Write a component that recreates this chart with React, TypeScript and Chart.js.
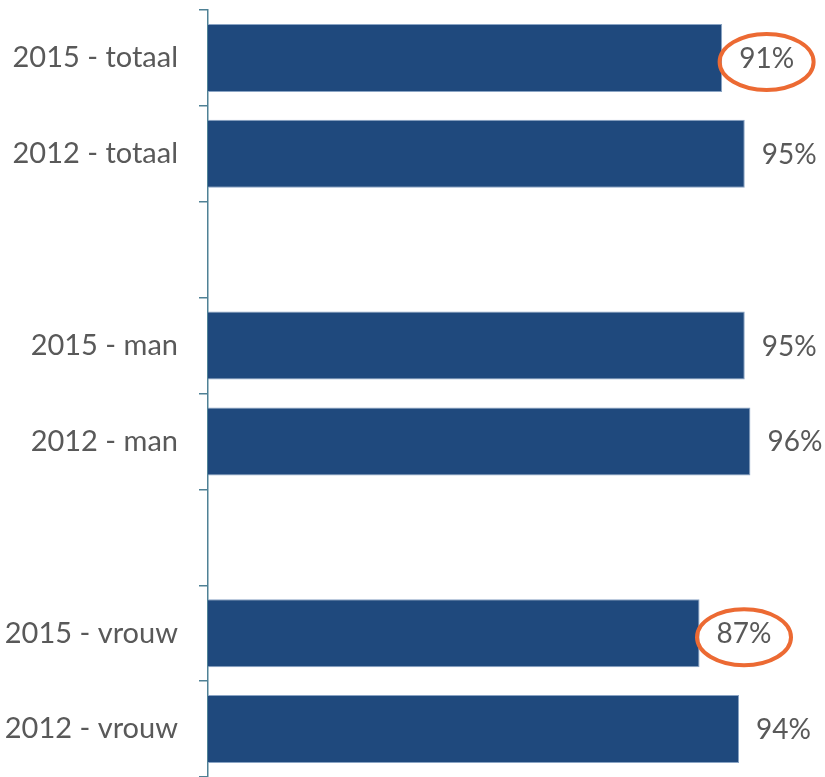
import React, { useEffect, useRef } from "react";
import { Chart, registerables } from "chart.js";

Chart.register(...registerables);

const categories = [
  "2015 - totaal",
  "2012 - totaal",
  "",
  "2015 - man",
  "2012 - man",
  "",
  "2015 - vrouw",
  "2012 - vrouw",
];
const values: (number | null)[] = [91, 95, null, 95, 96, null, 87, 94];
const highlighted = [0, 6];

const FONT = "Lato, 'Open Sans', sans-serif";

export default function App() {
  const ref = useRef<HTMLCanvasElement>(null);
  useEffect(() => {
    const labelPlugin = {
      id: "valueLabels",
      afterDatasetsDraw(chart: any) {
        const ctx = chart.ctx;
        const meta = chart.getDatasetMeta(0);
        ctx.save();
        ctx.font = `28px ${FONT}`;
        ctx.fillStyle = "#595959";
        ctx.textBaseline = "middle";
        ctx.textAlign = "left";
        meta.data.forEach((bar: any, i: number) => {
          const v = values[i];
          if (v == null) return;
          const text = `${v}%`;
          const x = bar.x + 17;
          const y = bar.y + 1;
          ctx.fillText(text, x, y);
          if (highlighted.includes(i)) {
            const w = ctx.measureText(text).width;
            ctx.beginPath();
            ctx.ellipse(x + w / 2, y + 3, 47, 28, 0, 0, Math.PI * 2);
            ctx.strokeStyle = "#ec6a33";
            ctx.lineWidth = 4;
            ctx.stroke();
          }
        });
        ctx.restore();
      },
    };
    const chart = new Chart(ref.current!, {
      type: "bar",
      data: {
        labels: categories,
        datasets: [
          {
            data: values,
            backgroundColor: "#1f497d",
            borderColor: "#8aa4c4",
            borderWidth: 1,
            categoryPercentage: 1,
            barPercentage: 0.71,
          },
        ],
      },
      options: {
        indexAxis: "y",
        responsive: false,
        animation: false,
        layout: { padding: { top: 10, right: 52, bottom: 0, left: 0 } },
        plugins: { legend: { display: false }, tooltip: { enabled: false } },
        scales: {
          x: { display: false, min: 0, max: 100 },
          y: {
            afterFit(scale: any) {
              scale.width = 208;
              scale.paddingTop = 0;
              scale.paddingBottom = 0;
            },
            grid: {
              drawOnChartArea: false,
              drawTicks: true,
              tickLength: 9,
              color: "#4f8195",
              lineWidth: 1.5,
            },
            border: { color: "#4f8195", width: 1.5 },
            ticks: {
              padding: 21,
              color: "#595959",
              font: { family: FONT, size: 29 },
            },
          },
        },
      },
      plugins: [labelPlugin],
    });
    return () => chart.destroy();
  }, []);
  return (
    <div style={{ position: "fixed", left: 0, top: 0, width: 825, height: 777, background: "#fff" }}>
      <canvas ref={ref} width={825} height={777} />
    </div>
  );
}
